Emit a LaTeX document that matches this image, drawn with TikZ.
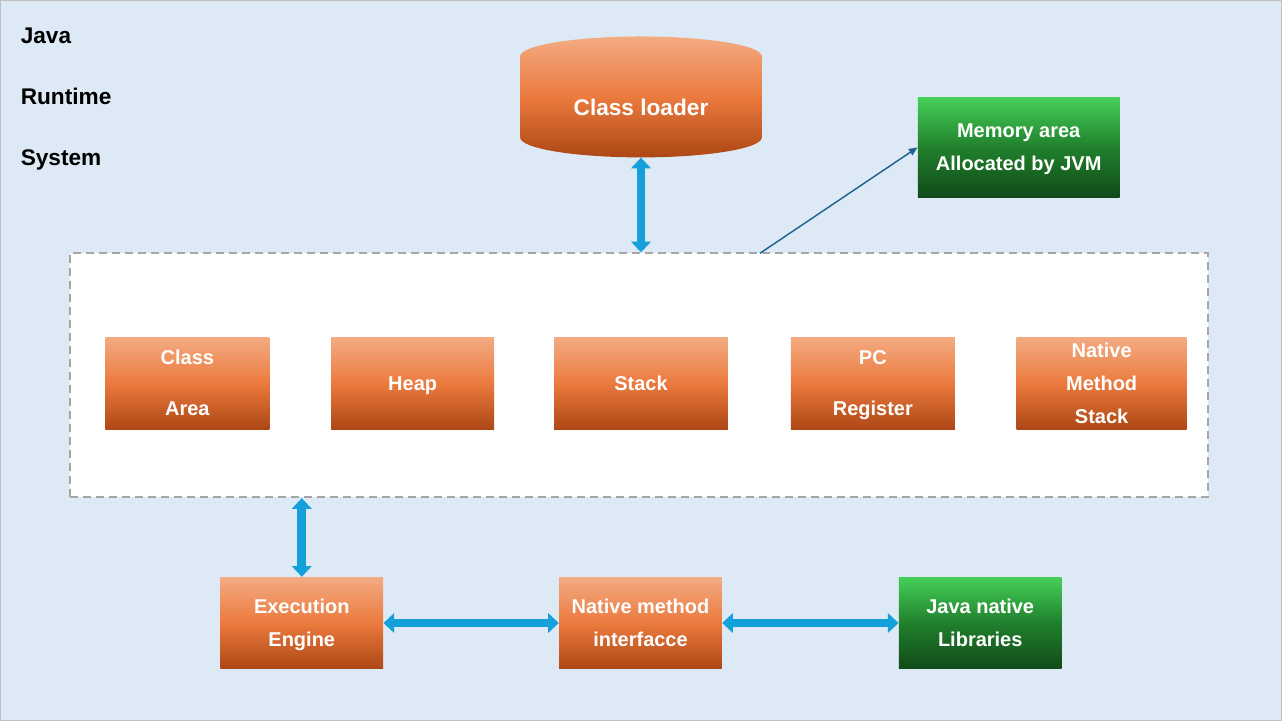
\documentclass[tikz,border=0pt]{standalone}
\usepackage{fontspec}
\setmainfont{Liberation Sans}
\usetikzlibrary{arrows.meta,calc}
\definecolor{bg}{HTML}{DDEAF6}
\definecolor{frame}{HTML}{BFBFBF}
\definecolor{orA}{HTML}{F3AB82}
\definecolor{orB}{HTML}{EB7A3E}
\definecolor{orC}{HTML}{AD4714}
\definecolor{grA}{HTML}{45CF58}
\definecolor{grB}{HTML}{20802C}
\definecolor{grC}{HTML}{114A1A}
\definecolor{arrblue}{HTML}{13A0DB}
\definecolor{dashgray}{HTML}{A6A6A6}
\definecolor{thinblue}{HTML}{1F6391}
\begin{document}
\begin{tikzpicture}[x=0.75pt,y=-0.75pt,
  txt/.style={text=white, font=\fontsize{15}{24.75}\selectfont\bfseries, align=center, inner sep=0pt, text depth=0pt},
  obox/.style={txt, top color=orA, bottom color=orC, middle color=orB, minimum width=123pt, minimum height=69pt},
  gbox/.style={txt, top color=grA, bottom color=grC, middle color=grB},
  title/.style={anchor=base west, font=\fontsize{17}{20}\selectfont\bfseries, text=black, inner sep=0pt},
  bigarrow/.style={draw=arrblue, line width=6.5pt, {Triangle[width=14.5pt,length=8pt]}-{Triangle[width=14.5pt,length=8pt]}},
  thinarrow/.style={draw=thinblue, line width=1.1pt, -{Triangle[width=5.5pt,length=6.5pt]}}
]
% background
\fill[bg, draw=frame, line width=0.75pt] (0,0) rectangle (1282,721);
\useasboundingbox (0,0) rectangle (1282,721);

% titles
\node[title] (t1) at (20,43) {Java};
\node[title] (t2) at (20,104) {Runtime};
\node[title] (t3) at (20,165) {System};

% class loader cylinder
\shade[top color=orA, bottom color=orC, middle color=orB]
  (520,137) -- (520,56)
  .. controls (520,44.95) and (574.2,36) .. (641,36)
  .. controls (707.8,36) and (762,44.95) .. (762,56)
  -- (762,137)
  .. controls (762,148.05) and (707.8,157) .. (641,157)
  .. controls (574.2,157) and (520,148.05) .. (520,137) -- cycle;
\node[txt, font=\fontsize{17}{20}\selectfont\bfseries, minimum width=181.5pt, minimum height=75.75pt] (loader) at (641,106.5) {Class loader};

% memory area
\node[gbox, minimum width=151.5pt, minimum height=75pt] (mem) at (1019,147) {Memory area\\Allocated by JVM};

% runtime data area (dashed)
\node[draw=dashgray, fill=white, line width=1.5pt, dash pattern=on 6pt off 3.75pt, minimum width=853.5pt, minimum height=183pt, inner sep=0pt] (rda) at (639,375) {};

% inner boxes
\node[obox] (classarea) at (187,383) {Class\\[13.5pt]Area};
\node[obox, minimum width=122.25pt] (heap) at (412.5,383) {Heap};
\node[obox, minimum width=130.5pt] (stack) at (641,383) {Stack};
\node[obox] (pc) at (873,383) {PC\\[13.5pt]Register};
\node[obox, minimum width=127.5pt] (nms) at (1102,383) {Native\\Method\\Stack};

% bottom row
\node[obox, minimum width=122.25pt] (exec) at (301.5,623) {Execution\\Engine};
\node[obox, minimum width=122.25pt] (nmi) at (640.5,623) {Native method\\interfacce};
\node[gbox, minimum width=122.25pt, minimum height=69pt] (jnl) at (980.5,623) {Java native\\Libraries};

% connectors
\draw[bigarrow] (loader.south) -- (loader.south |- rda.north);
\draw[bigarrow] (exec.north |- rda.south) -- (exec.north);
\draw[bigarrow] (exec.east) -- (nmi.west);
\draw[bigarrow] (nmi.east) -- (jnl.west);
\coordinate (m0) at (760,253);
\draw[thinarrow] (m0) -- (mem.west);
\end{tikzpicture}
\end{document}
